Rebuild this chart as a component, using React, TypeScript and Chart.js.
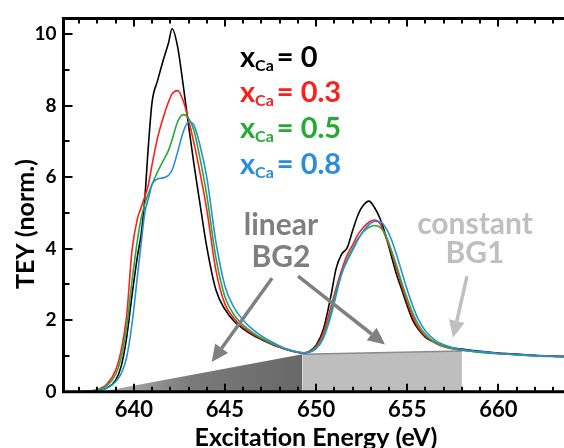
import React, { useEffect, useRef } from 'react';
import { Chart, registerables } from 'chart.js';

Chart.register(...registerables);

// ---------- data ----------
const energy = [
  636, 637, 637.5, 638, 638.5, 639, 639.3, 639.6, 639.9, 640.2, 640.4, 640.6, 640.8, 641.0, 641.3, 641.6, 641.9,
  642.1, 642.4, 642.7, 643.0, 643.3, 643.6, 644.0, 644.5, 645.0, 645.5, 646.0, 646.5, 647.0, 647.5, 648.0, 648.5,
  649.0, 649.3, 649.6, 650.0, 650.4, 650.8, 651.1, 651.4, 651.7, 652.0, 652.3, 652.6, 652.9, 653.2, 653.5, 653.8,
  654.1, 654.4, 654.7, 655.0, 655.3, 655.6, 656.0, 656.5, 657.0, 657.5, 658.0, 658.5, 659.0, 660.0, 661.0, 662.0,
  663.0, 663.6,
];

const teyX00 = [
  0.0, 0.0, 0.01, 0.03, 0.1, 0.32, 0.7, 1.5, 2.7, 3.8, 4.4, 5.4, 6.9, 8.1, 8.7, 9.25, 9.75,
  10.15, 9.65, 8.6, 7.45, 6.35, 5.35, 4.05, 2.85, 2.3, 1.97, 1.76, 1.59, 1.46, 1.34, 1.24, 1.16,
  1.1, 1.08, 1.12, 1.3, 1.75, 2.65, 3.45, 3.85, 4.02, 4.5, 4.95, 5.22, 5.33, 5.15, 4.85, 4.4,
  3.85, 3.3, 2.85, 2.4, 2.0, 1.75, 1.52, 1.38, 1.27, 1.22, 1.19, 1.16, 1.13, 1.08, 1.05, 1.02,
  1.0, 0.99,
];

const teyX03 = [
  0.0, 0.0, 0.02, 0.06, 0.2, 0.6, 1.15, 2.1, 3.95, 4.85, 5.15, 5.45, 5.8, 6.35, 7.1, 7.65, 8.1,
  8.33, 8.42, 8.15, 7.6, 6.95, 6.2, 5.1, 3.4, 2.45, 2.05, 1.8, 1.62, 1.48, 1.35, 1.24, 1.16,
  1.1, 1.08, 1.11, 1.27, 1.65, 2.35, 2.9, 3.4, 3.82, 4.1, 4.4, 4.6, 4.74, 4.8, 4.7, 4.35,
  3.95, 3.45, 2.95, 2.5, 2.1, 1.8, 1.55, 1.37, 1.26, 1.2, 1.16, 1.13, 1.11, 1.07, 1.04, 1.01,
  0.99, 0.98,
];

const teyX05 = [
  0.0, 0.0, 0.02, 0.05, 0.16, 0.48, 0.95, 1.8, 3.1, 4.25, 4.85, 5.25, 5.55, 5.8, 6.15, 6.45, 6.75,
  7.05, 7.55, 7.75, 7.65, 7.3, 6.6, 5.5, 3.75, 2.65, 2.15, 1.86, 1.66, 1.5, 1.37, 1.26, 1.17,
  1.11, 1.09, 1.11, 1.23, 1.55, 2.2, 2.8, 3.3, 3.7, 4.0, 4.28, 4.48, 4.6, 4.65, 4.6, 4.4,
  4.0, 3.55, 3.05, 2.6, 2.2, 1.88, 1.6, 1.39, 1.27, 1.2, 1.16, 1.13, 1.1, 1.06, 1.03, 1.0,
  0.98, 0.97,
];

const teyX08 = [
  0.0, 0.0, 0.01, 0.03, 0.09, 0.28, 0.5, 0.95, 1.9, 3.25, 4.15, 5.0, 5.4, 5.8, 5.95, 5.98, 6.05,
  6.2, 6.7, 7.25, 7.55, 7.45, 6.95, 6.0, 4.2, 2.95, 2.35, 2.0, 1.75, 1.56, 1.41, 1.28, 1.18,
  1.11, 1.09, 1.1, 1.2, 1.5, 2.1, 2.7, 3.3, 3.65, 3.95, 4.25, 4.5, 4.67, 4.76, 4.76, 4.6,
  4.3, 3.85, 3.35, 2.85, 2.4, 2.03, 1.7, 1.45, 1.31, 1.23, 1.18, 1.15, 1.12, 1.07, 1.04, 1.01,
  0.99, 0.97,
];

const seriesValues = [teyX00, teyX03, teyX05, teyX08];
const seriesLabels = ['0', '0.3', '0.5', '0.8'];
const seriesColors = ['#000000', '#ff1e1e', '#24ab35', '#2b8cdc'];

// linear background BG2 (energy, value) and constant background BG1
const bg2Energy = [638.2, 649.25];
const bg2Value = [0, 1.05];
const bg1Energy = [649.25, 658.0];
const bg1Value = [1.05, 1.14];

const xTickLabels = [640, 645, 650, 655, 660];
const yTickLabels = [0, 2, 4, 6, 8, 10];

const X_MIN = 636.14;
const X_MAX = 663.6;
const Y_MIN = 0;
const Y_MAX = 10.44;

const FONT = 'Lato, "Open Sans", sans-serif';

// ---------- drawing helpers ----------
function drawArrow(ctx: CanvasRenderingContext2D, x0: number, y0: number, x1: number, y1: number, color: string) {
  const ang = Math.atan2(y1 - y0, x1 - x0);
  const headLen = 17;
  const headHalf = 8;
  const bx = x1 - headLen * Math.cos(ang);
  const by = y1 - headLen * Math.sin(ang);
  ctx.strokeStyle = color;
  ctx.fillStyle = color;
  ctx.lineWidth = 3.5;
  ctx.lineCap = 'butt';
  ctx.beginPath();
  ctx.moveTo(x0, y0);
  ctx.lineTo(bx, by);
  ctx.stroke();
  ctx.beginPath();
  ctx.moveTo(x1, y1);
  ctx.lineTo(bx + headHalf * Math.sin(ang), by - headHalf * Math.cos(ang));
  ctx.lineTo(bx - headHalf * Math.sin(ang), by + headHalf * Math.cos(ang));
  ctx.closePath();
  ctx.fill();
}

const decorPlugin = {
  id: 'decor',
  afterDatasetsDraw(chart: any) {
    const { ctx, chartArea: a, scales } = chart;
    const xs = scales.x;
    const ys = scales.y;
    const px = (e: number) => xs.getPixelForValue(e);
    const py = (v: number) => ys.getPixelForValue(v);
    ctx.save();

    // arrows (data coordinates)
    drawArrow(ctx, px(647.58), py(3.17), px(644.27), py(0.83), '#808080');
    drawArrow(ctx, px(649.01), py(3.23), px(653.78), py(1.32), '#808080');
    drawArrow(ctx, px(658.28), py(3.23), px(657.51), py(1.51), '#bfbfbf');

    // annotation texts
    ctx.textAlign = 'center';
    ctx.textBaseline = 'alphabetic';
    ctx.font = `bold 30px ${FONT}`;
    ctx.fillStyle = '#7f7f7f';
    ctx.fillText('linear', px(648.07), py(4.39));
    ctx.fillText('BG2', px(648.07), py(3.5));
    ctx.fillStyle = '#bfbfbf';
    ctx.fillText('constant', px(658.72), py(4.42));
    ctx.fillText('BG1', px(658.72), py(3.59));

    // legend
    const legendV = [9.09, 8.1, 7.1, 6.1];
    ctx.textAlign = 'left';
    seriesLabels.forEach((lab, i) => {
      const X = px(645.82);
      const Y = py(legendV[i]);
      ctx.fillStyle = seriesColors[i];
      ctx.font = `bold 29px ${FONT}`;
      ctx.fillText('x', X, Y);
      let cx = X + ctx.measureText('x').width;
      ctx.font = `bold 16px ${FONT}`;
      ctx.fillText('Ca', cx, Y + 4);
      cx += ctx.measureText('Ca').width + 3;
      ctx.font = `bold 29px ${FONT}`;
      ctx.fillText('= ' + lab, cx, Y);
    });

    // frame
    ctx.strokeStyle = '#000';
    ctx.lineWidth = 3;
    ctx.lineCap = 'square';
    ctx.beginPath();
    ctx.moveTo(a.right + 2, a.top);
    ctx.lineTo(a.left, a.top);
    ctx.lineTo(a.left, a.bottom);
    ctx.lineTo(a.right + 2, a.bottom);
    ctx.stroke();

    // ticks
    ctx.lineWidth = 2;
    ctx.lineCap = 'butt';
    ctx.beginPath();
    for (let e = Math.ceil(xs.min); e <= xs.max; e++) {
      const X = Math.round(px(e));
      const len = e % 5 === 0 ? 8 : 5;
      ctx.moveTo(X, a.bottom);
      ctx.lineTo(X, a.bottom - len);
      ctx.moveTo(X, a.top);
      ctx.lineTo(X, a.top + len);
    }
    for (let v = 1; v <= ys.max; v++) {
      const Y = Math.round(py(v));
      const len = v % 2 === 0 ? 9 : 6;
      ctx.moveTo(a.left, Y);
      ctx.lineTo(a.left + len, Y);
    }
    ctx.stroke();

    // axis titles
    ctx.fillStyle = '#000';
    ctx.font = `bold 25px ${FONT}`;
    ctx.textAlign = 'center';
    ctx.textBaseline = 'alphabetic';
    ctx.fillText('Excitation Energy (eV)', 316, 446);
    ctx.save();
    ctx.translate(34, 224);
    ctx.rotate(-Math.PI / 2);
    ctx.fillText('TEY (norm.)', 0, 0);
    ctx.restore();

    ctx.restore();
  },
};

export default function App() {
  const ref = useRef<HTMLCanvasElement>(null);
  useEffect(() => {
    if (!ref.current) return;
    const lineSets = seriesValues.map((vals, i) => ({
      label: 'x_Ca = ' + seriesLabels[i],
      data: energy.map((e, k) => ({ x: e, y: vals[k] })),
      borderColor: seriesColors[i],
      borderWidth: 1.6,
      pointRadius: 0,
      fill: false,
      cubicInterpolationMode: 'monotone',
      order: 4 - i,
    }));
    const bg2 = {
      label: 'linear BG2',
      data: bg2Energy.map((e, k) => ({ x: e, y: bg2Value[k] })),
      borderColor: 'rgba(0,0,0,0)',
      borderWidth: 0,
      pointRadius: 0,
      fill: 'origin',
      order: 10,
      backgroundColor: (c: any) => {
        const ch = c.chart;
        if (!ch.chartArea) return '#707070';
        const xs = ch.scales.x;
        const g = ch.ctx.createLinearGradient(xs.getPixelForValue(bg2Energy[0]), 0, xs.getPixelForValue(bg2Energy[1]), 0);
        g.addColorStop(0, '#b4b4b4');
        g.addColorStop(0.45, '#7a7a7a');
        g.addColorStop(1, '#686868');
        return g;
      },
    };
    const bg1 = {
      label: 'constant BG1',
      data: bg1Energy.map((e, k) => ({ x: e, y: bg1Value[k] })),
      borderColor: '#8c8c8c',
      borderWidth: 1.5,
      pointRadius: 0,
      fill: 'origin',
      backgroundColor: '#bebebe',
      order: 9,
    };
    const chart = new Chart(ref.current, {
      type: 'line',
      data: { datasets: [...lineSets, bg1, bg2] as any },
      options: {
        animation: false,
        responsive: false,
        devicePixelRatio: 1,
        layout: { padding: { top: 14.3, left: 0, right: 0, bottom: 0 } },
        plugins: { legend: { display: false }, tooltip: { enabled: false } },
        scales: {
          x: {
            type: 'linear',
            min: X_MIN,
            max: X_MAX,
            afterBuildTicks: (s: any) => {
              s.ticks = xTickLabels.map((v) => ({ value: v }));
            },
            afterFit: (s: any) => {
              s.height = 56.3;
            },
            ticks: {
              autoSkip: false,
              maxRotation: 0,
              padding: 5,
              color: '#000',
              font: { family: FONT, size: 22, weight: 'bold' },
            },
            grid: { display: false, drawTicks: false },
            border: { display: false },
          },
          y: {
            type: 'linear',
            min: Y_MIN,
            max: Y_MAX,
            afterBuildTicks: (s: any) => {
              s.ticks = yTickLabels.map((v) => ({ value: v }));
            },
            afterFit: (s: any) => {
              s.width = 63.5;
            },
            ticks: {
              padding: 7,
              color: '#000',
              font: { family: FONT, size: 19, weight: 'bold' },
            },
            grid: { display: false, drawTicks: false },
            border: { display: false },
          },
        },
      } as any,
      plugins: [decorPlugin],
    });
    return () => chart.destroy();
  }, []);
  return (
    <div style={{ position: 'fixed', left: 0, top: 0, width: 564, height: 448, background: '#fff' }}>
      <canvas ref={ref} width={564} height={448} style={{ display: 'block' }} />
    </div>
  );
}
